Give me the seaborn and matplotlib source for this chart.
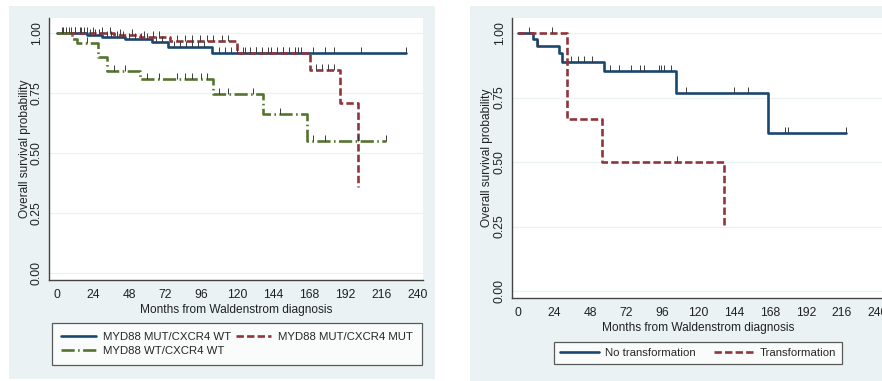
import numpy as np
import pandas as pd
import matplotlib
matplotlib.use("Agg")
import matplotlib.pyplot as plt
from matplotlib.patches import Rectangle
import seaborn as sns

sns.set_style("white")
plt.rcParams['font.family'] = ['Liberation Sans', 'DejaVu Sans']

# ---------------- data (left panel) ----------------
left_names = ["MYD88 MUT/CXCR4 WT", "MYD88 MUT/CXCR4 MUT", "MYD88 WT/CXCR4 WT"]
blue_t = [0, 20, 30, 45, 63, 74, 103, 232]
blue_s = [1.0, 0.99, 0.985, 0.975, 0.962, 0.94, 0.915, 0.915]
blue_c = [3, 6, 9, 12, 15, 18, 22, 25, 28, 33, 36, 40, 44, 48, 52, 56, 60, 66, 70, 78,
          82, 86, 90, 94, 98, 108, 112, 116, 120, 124, 128, 132, 136, 142, 146, 150,
          154, 158, 162, 170, 178, 184, 202, 232]
red_t = [0, 38, 55, 75, 120, 168, 188, 200]
red_s = [1.0, 0.99, 0.985, 0.965, 0.915, 0.846, 0.707, 0.357]
red_c = [8, 12, 16, 20, 24, 30, 35, 42, 50, 58, 64, 68, 80, 85, 90, 95, 100, 104, 110,
         114, 125, 132, 140, 150, 160, 172, 176, 180, 184]
green_t = [0, 10, 13, 27, 33, 55, 104, 137, 166, 219]
green_s = [1.0, 0.975, 0.957, 0.90, 0.843, 0.808, 0.745, 0.661, 0.551, 0.551]
green_c = [4, 20, 38, 45, 60, 68, 80, 85, 90, 96, 100, 108, 114, 130, 148, 170, 178, 200, 219]

# ---------------- data (right panel) ----------------
right_names = ["No transformation", "Transformation"]
notr_t = [0, 10, 12.5, 27, 29.5, 57, 105, 167, 219]
notr_s = [1.0, 0.976, 0.95, 0.921, 0.889, 0.853, 0.769, 0.614, 0.614]
notr_c = [13.5, 35, 40, 44, 49, 61, 67, 75, 81, 84, 94, 95, 97, 102, 112, 144, 153,
          178, 180, 219]
tr_t = [0, 32.5, 56, 137]
tr_s = [1.0, 0.667, 0.5, 0.25]
tr_c = [7, 22.5, 106]

x_ticks = [0, 24, 48, 72, 96, 120, 144, 168, 192, 216, 240]
y_ticks = [0.0, 0.25, 0.5, 0.75, 1.0]
y_ticklabels = ["0.00", "0.25", "0.50", "0.75", "1.00"]
x_label = "Months from Waldenstrom diagnosis"
y_label = "Overall survival probability"

C_BLUE = "#1a476f"
C_RED = "#90353b"
C_GREEN = "#55752f"
BG = "#eaf2f3"
FS = 8.2

W, H = 882, 381
fig = plt.figure(figsize=(W / 100, H / 100), dpi=100)
fig.patch.set_facecolor("white")

def px_rect(x0, y0, x1, y1):
    return [x0 / W, 1 - y1 / H, (x1 - x0) / W, (y1 - y0) / H]

fig.patches.append(Rectangle((9 / W, 1 - 379 / H), (435 - 9) / W, (379 - 6) / H,
                             transform=fig.transFigure, facecolor=BG, edgecolor="none", zorder=-10))
fig.patches.append(Rectangle((470 / W, 1 - 381 / H), (882 - 470) / W, (381 - 6) / H,
                             transform=fig.transFigure, facecolor=BG, edgecolor="none", zorder=-10))

axL = fig.add_axes(px_rect(49, 18, 423, 280))
axR = fig.add_axes(px_rect(512, 18, 884, 298))


def step_val(ts, ss, c):
    idx = np.searchsorted(np.asarray(ts), c, side="right") - 1
    return np.asarray(ss)[idx]


def km(ax, ts, ss, cs, color, ls, label):
    df = pd.DataFrame({"t": ts, "s": ss})
    sns.lineplot(data=df, x="t", y="s", ax=ax, color=color, linestyle=ls, lw=1.9,
                 drawstyle="steps-post", estimator=None, sort=False, label=label,
                 zorder=3)
    cdf = pd.DataFrame({"t": cs, "s": step_val(ts, ss, cs)})
    sns.scatterplot(data=cdf, x="t", y="s", ax=ax, marker=2, s=20, color="#3b3b3b",
                    linewidth=0.7, zorder=4, legend=False)


def style(ax, ylim, xlim, ylab_x):
    ax.set_facecolor("white")
    ax.set_xlim(*xlim)
    ax.set_ylim(*ylim)
    ax.set_xticks(x_ticks)
    ax.set_yticks(y_ticks)
    ax.set_yticklabels(y_ticklabels)
    for t in ax.get_yticklabels():
        t.set_rotation(90)
        t.set_va("center")
    ax.grid(axis="y", color=BG, lw=0.9)
    ax.grid(axis="x", visible=False)
    for sp in ["top", "right"]:
        ax.spines[sp].set_visible(False)
    for sp in ["left", "bottom"]:
        ax.spines[sp].set_color("#444444")
        ax.spines[sp].set_linewidth(1.0)
    ax.tick_params(axis="both", direction="out", length=3.5, width=0.8, color="#555555",
                   labelsize=FS + 0.5, labelcolor="#222222", pad=1)
    ax.tick_params(axis="x", pad=3)
    ax.set_xlabel(x_label, fontsize=FS + 0.4, color="#222222", labelpad=2.5)
    ax.set_ylabel(y_label, fontsize=FS + 0.4, color="#222222")
    ax.yaxis.set_label_coords(ylab_x, 0.5)
    ax.yaxis.label.set_va("center")


km(axL, blue_t, blue_s, blue_c, C_BLUE, "-", left_names[0])
km(axL, red_t, red_s, red_c, C_RED, (0, (2.8, 1.2)), left_names[1])
km(axL, green_t, green_s, green_c, C_GREEN, (0, (5, 1.3, 0.6, 1.3)), left_names[2])
style(axL, ((273 - 280) / 240, (273 - 18) / 240), ((49 - 57) / 1.504, (423 - 57) / 1.504),
      (25 - 49) / 374)

km(axR, notr_t, notr_s, notr_c, C_BLUE, "-", right_names[0])
km(axR, tr_t, tr_s, tr_c, C_RED, (0, (2.8, 1.2)), right_names[1])
style(axR, ((291 - 298) / 258, (291 - 18) / 258), ((512 - 518) / 1.5, (884 - 518) / 1.5),
      (487 - 512) / 372)

hL, lL = axL.get_legend_handles_labels()
axL.legend_.remove()
order = [0, 2, 1]
legL = fig.legend([hL[i] for i in order], [lL[i] for i in order], loc="center",
                  ncol=2, bbox_to_anchor=(237 / W, 1 - 344 / H),
                  bbox_transform=fig.transFigure, fontsize=FS, frameon=True,
                  fancybox=False, edgecolor="#333333", facecolor="white",
                  handlelength=3.1, handletextpad=0.6, borderpad=0.75, labelspacing=0.4,
                  columnspacing=0.45)
legL.get_frame().set_linewidth(0.9)

hR, lR = axR.get_legend_handles_labels()
axR.legend_.remove()
legR = fig.legend(hR, lR, loc="center", ncol=2,
                  bbox_to_anchor=(698 / W, 1 - 353 / H),
                  bbox_transform=fig.transFigure, fontsize=FS, frameon=True,
                  fancybox=False, edgecolor="#333333", facecolor="white",
                  handlelength=3.4, handletextpad=0.6, borderpad=0.55,
                  columnspacing=1.6)
legR.get_frame().set_linewidth(0.9)

fig.savefig("out.png", dpi=100, facecolor="white")
